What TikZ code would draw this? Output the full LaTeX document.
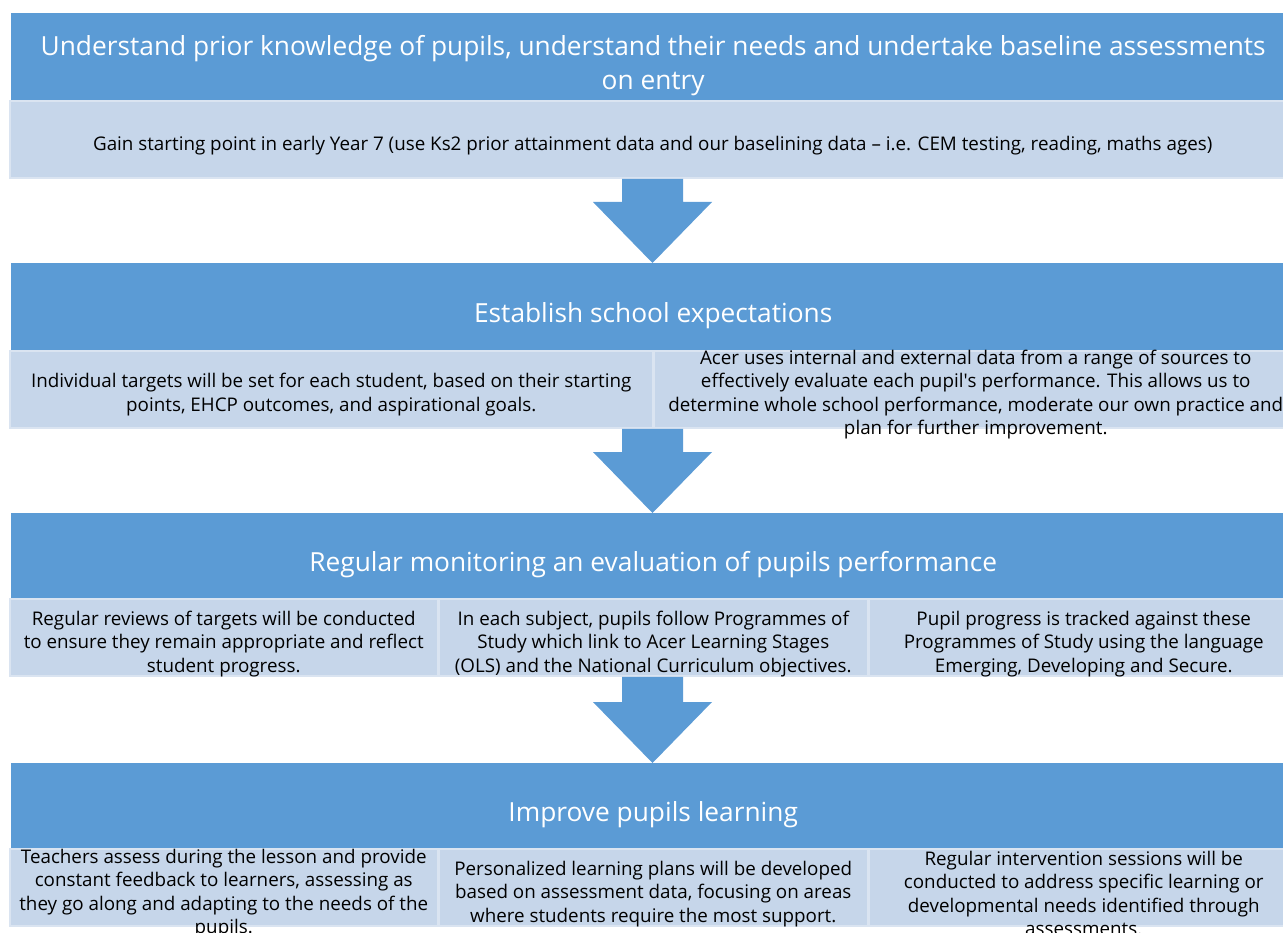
\documentclass[tikz,border=0pt]{standalone}
\usepackage{fontspec}
\setmainfont{Open Sans}
\usetikzlibrary{calc}
\definecolor{headblue}{HTML}{5B9BD5}
\definecolor{subblue}{HTML}{C6D6EA}
\definecolor{lineblue}{HTML}{DAE4F1}
\newcommand{\headfont}{\fontsize{26.3}{34}\selectfont}
\newcommand{\subfont}{\fontsize{18.8}{23.5}\selectfont}
\begin{document}
\begin{tikzpicture}[x=1pt, y=-1pt,
  headbox/.style={fill=headblue, inner sep=0pt, anchor=north west, minimum width=1284pt, minimum height=87pt},
  subbox/.style={fill=subblue, draw=lineblue, line width=1.5pt, inner sep=0pt, anchor=north west, minimum height=77pt},
  headtext/.style={text=white, font=\headfont, align=center, inner sep=0pt},
  subtext/.style={font=\subfont, align=center, inner sep=0pt},
  blockarrow/.style={fill=headblue}]
\useasboundingbox (0,0) rectangle (1283,933);

% stage 1
\node[headbox] (head1) at (11,13) {};
\node[subbox, minimum width=1286pt] (sub1) at ([xshift=-2pt]head1.south west) {};

% stage 2
\node[headbox] (head2) at (11,263) {};
\node[subbox, minimum width=643pt] (sub2a) at ([xshift=-2pt]head2.south west) {};
\node[subbox, minimum width=643pt] (sub2b) at (sub2a.north east) {};

% stage 3
\node[headbox, minimum height=85pt] (head3) at (11,513) {};
\node[subbox, minimum width=428pt] (sub3a) at ([xshift=-2pt]head3.south west) {};
\node[subbox, minimum width=428pt] (sub3b) at (sub3a.north east) {};
\node[subbox, minimum width=430pt] (sub3c) at (sub3b.north east) {};

% stage 4
\node[headbox, minimum height=85pt] (head4) at (11,763) {};
\node[subbox, minimum width=428pt] (sub4a) at ([xshift=-2pt]head4.south west) {};
\node[subbox, minimum width=428pt] (sub4b) at (sub4a.north east) {};
\node[subbox, minimum width=430pt] (sub4c) at (sub4b.north east) {};

% block arrows
\foreach \a/\b in {sub1/head2, sub2a/head3, sub3b/head4}
  \fill[blockarrow] (622,0 |- \a.south) -- (683,0 |- \a.south)
    -- ($(683,0 |- \b.north)+(0,-61)$) -- ($(712,0 |- \b.north)+(0,-61)$)
    -- (652.5,0 |- \b.north)
    -- ($(593,0 |- \b.north)+(0,-61)$) -- ($(622,0 |- \b.north)+(0,-61)$) -- cycle;

% texts
\node[headtext] (title1) at ($(head1.center)+(0,9)$) {Understand prior knowledge of pupils, understand their needs and undertake baseline assessments\\on entry};
\node[subtext] (text1) at ($(sub1.center)+(0,6)$) {Gain starting point in early Year 7 (use Ks2 prior attainment data and our baselining data – i.e. CEM testing, reading, maths ages)};

\node[headtext] (title2) at ($(head2.center)+(0,9)$) {Establish school expectations};
\node[subtext] (text2a) at ($(sub2a.center)+(0,5)$) {Individual targets will be set for each student, based on their starting\\points, EHCP outcomes, and aspirational goals.};
\node[subtext] (text2b) at ($(sub2b.center)+(0,5)$) {Acer uses internal and external data from a range of sources to\\effectively evaluate each pupil\textquotesingle s performance. This allows us to\\determine whole school performance, moderate our own practice and\\plan for further improvement.};

\node[headtext] (title3) at ($(head3.center)+(0,9)$) {Regular monitoring an evaluation of pupils performance};
\node[subtext] (text3a) at ($(sub3a.center)+(0,6)$) {Regular reviews of targets will be conducted\\to ensure they remain appropriate and reflect\\student progress.};
\node[subtext] (text3b) at ($(sub3b.center)+(0,6)$) {In each subject, pupils follow Programmes of\\Study which link to Acer Learning Stages\\(OLS) and the National Curriculum objectives.};
\node[subtext] (text3c) at ($(sub3c.center)+(0,6)$) {Pupil progress is tracked against these\\Programmes of Study using the language\\Emerging, Developing and Secure.};

\node[headtext] (title4) at ($(head4.center)+(0,9)$) {Improve pupils learning};
\node[subtext] (text4a) at ($(sub4a.center)+(0,6)$) {Teachers assess during the lesson and provide\\constant feedback to learners, assessing as\\they go along and adapting to the needs of the\\pupils.};
\node[subtext] (text4b) at ($(sub4b.center)+(0,6)$) {Personalized learning plans will be developed\\based on assessment data, focusing on areas\\where students require the most support.};
\node[subtext] (text4c) at ($(sub4c.center)+(0,6)$) {Regular intervention sessions will be\\conducted to address specific learning or\\developmental needs identified through\\assessments.};
\end{tikzpicture}
\end{document}
